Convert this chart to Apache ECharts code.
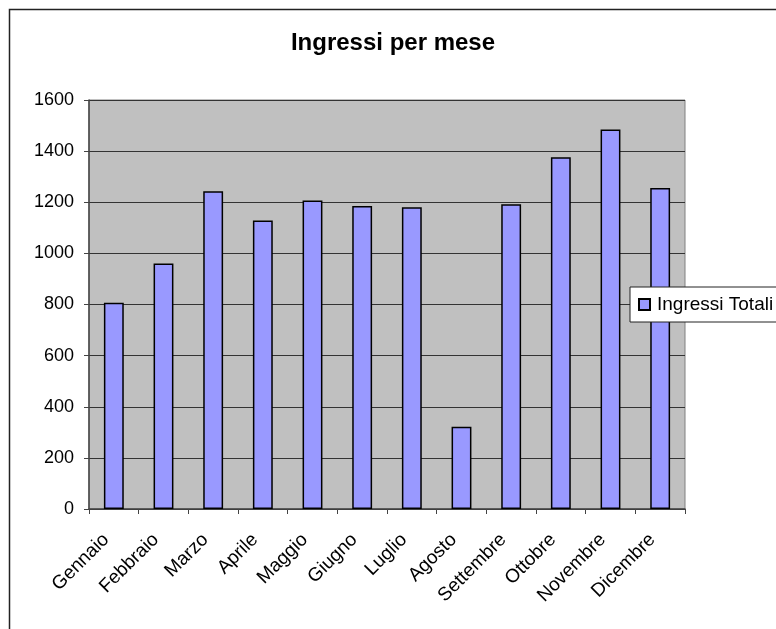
<!DOCTYPE html>
<html>
<head>
<meta charset="utf-8">
<script src="https://cdn.jsdelivr.net/npm/echarts@6/dist/echarts.min.js"></script>
<style>
html,body{margin:0;padding:0;background:#fff;}
#c{width:776px;height:629px;}
</style>
</head>
<body>
<div id="c"></div>
<script>
var categories = ['Gennaio','Febbraio','Marzo','Aprile','Maggio','Giugno','Luglio','Agosto','Settembre','Ottobre','Novembre','Dicembre'];
var ingressiTotali = [807, 960, 1243, 1129, 1207, 1185, 1180, 322, 1192, 1376, 1485, 1256];
var seriesName = 'Ingressi Totali';
var chartTitle = 'Ingressi per mese';

var FONT = '"Liberation Sans", Arial, sans-serif';
var chart = echarts.init(document.getElementById('c'), null, {renderer: 'canvas'});
chart.setOption({
  animation: false,
  backgroundColor: '#ffffff',
  graphic: [{
    type: 'rect',
    shape: {x: 9.5, y: 9.5, width: 900, height: 800},
    style: {fill: 'none', stroke: '#222', lineWidth: 1.5},
    z: 100
  }],
  title: {
    text: chartTitle,
    left: 388,
    top: 26,
    textAlign: 'center',
    textStyle: {fontFamily: FONT, fontSize: 24, fontWeight: 'bold', color: '#000'}
  },
  legend: {
    left: 630,
    top: 287,
    orient: 'vertical',
    backgroundColor: '#ffffff',
    borderColor: '#222',
    borderWidth: 1,
    padding: [8, 20, 8, 8],
    itemWidth: 11,
    itemHeight: 11,
    icon: 'rect',
    textStyle: {fontFamily: FONT, fontSize: 19, color: '#000', padding: [0, 0, 0, 2]},
    data: [seriesName],
    z: 50
  },
  grid: {
    left: 89, right: 91, top: 100, bottom: 120,
    show: true,
    backgroundColor: '#C0C0C0',
    borderColor: '#808080',
    borderWidth: 1,
    containLabel: false
  },
  xAxis: {
    type: 'category',
    data: categories,
    boundaryGap: true,
    axisLine: {show: true, lineStyle: {color: '#444', width: 1.5}},
    axisTick: {show: true, alignWithLabel: false, length: 5, lineStyle: {color: '#444', width: 1}},
    axisLabel: {rotate: 45, interval: 0, margin: 20, padding: [0, 11, 0, 0], fontFamily: FONT, fontSize: 19, color: '#000'},
    splitLine: {show: false}
  },
  yAxis: {
    type: 'value',
    min: 0,
    max: 1600,
    interval: 200,
    axisLine: {show: true, lineStyle: {color: '#444', width: 1.5}},
    axisTick: {show: true, length: 5, lineStyle: {color: '#444', width: 1}},
    axisLabel: {margin: 15, fontFamily: FONT, fontSize: 18, color: '#000', formatter: function (v) { return String(v); }},
    splitLine: {show: true, lineStyle: {color: '#333', width: 1}}
  },
  series: [{
    name: seriesName,
    type: 'bar',
    data: ingressiTotali,
    barWidth: '40%',
    itemStyle: {color: '#9999FF', borderColor: '#000', borderWidth: 1.5}
  }]
});
</script>
</body>
</html>
